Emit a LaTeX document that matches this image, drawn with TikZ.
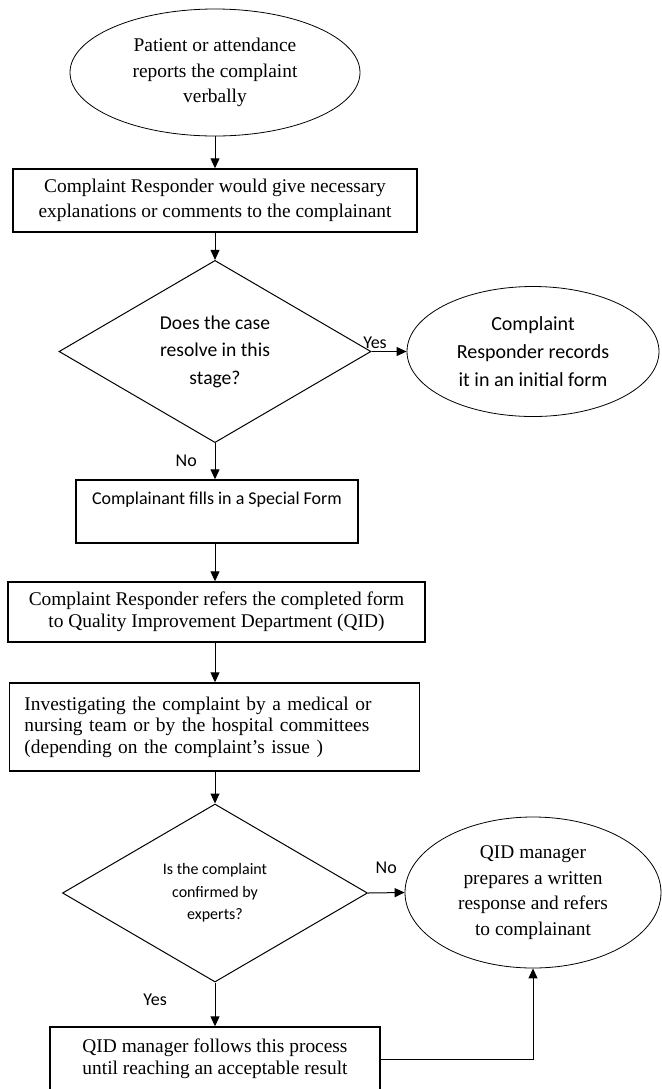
\documentclass[tikz,border=0pt]{standalone}
\usepackage{fontspec}
\setmainfont{Liberation Serif}
\setsansfont{Carlito}
\usetikzlibrary{arrows.meta}
\usetikzlibrary{positioning, shapes.geometric}

\begin{document}
\begin{tikzpicture}[x=0.5pt, y=-0.5pt,
	serif/.style={font=\fontsize{9.7}{12.75}\selectfont, align=center},
	serifnarrow/.style={font=\fontsize{9.7}{10.75}\selectfont, align=center},
	sans/.style={font=\sffamily\fontsize{9}{13}\selectfont, align=center},
	oval/.style={ellipse, draw, line width=0.4pt, inner sep=0pt},
	box/.style={rectangle, draw, line width=0.7pt, inner sep=0pt},
	decision/.style={diamond, draw, line width=0.5pt, inner sep=0pt},
	flow/.style={-{Triangle[length=5pt, width=4.5pt]}, line width=0.5pt}]
	\clip (0,0) rectangle (662,1089);

	% --- Upper part ---
	\node[oval, serif, minimum width=145pt, minimum height=63.5pt] (report) at (215,72.5) {Patient or attendance\\reports the complaint\\verbally};
	\node[box, serif, minimum width=202pt, minimum height=31.5pt] (explain) at (215,200.5) {Complaint Responder would give necessary\\explanations or comments to the complainant};
	\node[decision, sans, font=\sffamily\fontsize{9.8}{13.75}\selectfont, minimum width=156pt, minimum height=86.5pt] (resolve) at (215,351.5) {Does the case\\resolve in this\\stage?};
	\node[oval, sans, font=\sffamily\fontsize{10}{14}\selectfont, minimum width=126pt, minimum height=65pt] (record) at (533,351.5) {Complaint\\Responder records\\it in an initial form};

	\draw[flow] (report) -- (explain);
	\draw[flow] (explain) -- (resolve);
	\draw[flow] (resolve.east) -- (record.west) node[pos=0.1, above, sans, inner sep=1pt] {Yes};

	% --- Middle part ---
	\node[box, sans, font=\sffamily\fontsize{9}{13.5}\selectfont, minimum width=141pt, minimum height=31.5pt] (special) at (217,511.5) {Complainant fills in a Special Form\\\mbox{}};
	\node[box, serifnarrow, minimum width=208.5pt, minimum height=30pt] (refer) at (216.5,612) {Complaint Responder refers the completed form\\to Quality Improvement Department (QID)};
	\node[box, serifnarrow, align=left, text width=190pt, inner xsep=7.5pt, minimum height=44pt] (investigate) at (214.5,727) {Investigating the complaint by a medical or\\nursing team or by the hospital committees\\(depending on the complaint’s issue )};

	\draw[flow] (resolve.south) -- (resolve.south |- special.north) node[midway, left=5.5pt, sans] {No};
	\draw[flow] (resolve.south |- special.south) -- (resolve.south |- refer.north);
	\draw[flow] (resolve.south |- refer.south) -- (resolve.south |- investigate.north);

	% --- Lower part ---
	\node[decision, sans, font=\sffamily\fontsize{8}{11.25}\selectfont, minimum width=152.5pt, minimum height=89pt] (confirm) at (215,893) {Is the complaint\\confirmed by\\experts?};
	\node[oval, serif, minimum width=128pt, minimum height=75.5pt] (respond) at (533,892.5) {QID manager\\prepares a written\\response and refers\\to complainant};
	\node[box, serifnarrow, minimum width=165pt, minimum height=32pt] (follow) at (215,1059) {QID manager follows this process\\until reaching an acceptable result};

	\draw[flow] (resolve.south |- investigate.south) -- (confirm.north);
	\draw[flow] (confirm.east) -- (respond.west) node[midway, above=6pt, sans] {No};
	\draw[flow] (confirm.south) -- (follow.north) node[midway, left=20.5pt, yshift=2.5pt, sans] {Yes};
	\draw[flow] (follow.east) -| (respond.south);
\end{tikzpicture}
\end{document}
